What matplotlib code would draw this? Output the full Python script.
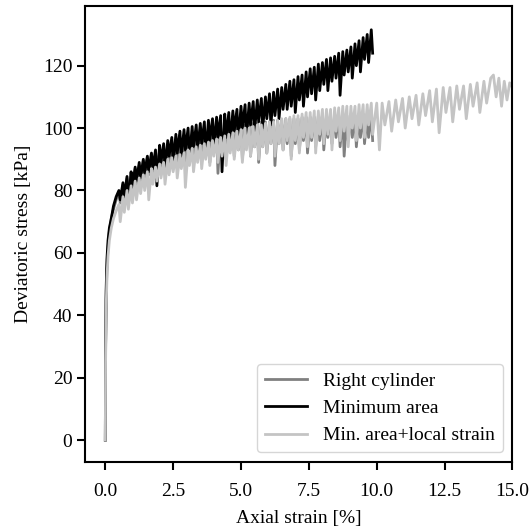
import matplotlib
matplotlib.use("Agg")
import matplotlib.pyplot as plt

plt.rcParams['font.family'] = ['Liberation Serif', 'DejaVu Serif']
plt.rcParams['font.size'] = 14

# Axial strain grid shared by the three tests (%)
strain_common = [
    0, 0.01, 0.03, 0.06, 0.1, 0.15, 0.22, 0.3, 0.4,
    0.5, 0.55, 0.65, 0.7, 0.8, 0.85, 0.95, 1.0, 1.1, 1.15,
    1.25, 1.3, 1.4, 1.45, 1.55, 1.6, 1.7, 1.75, 1.85, 1.9,
    2.0, 2.05, 2.15, 2.2, 2.3, 2.35, 2.45, 2.5, 2.6, 2.65,
    2.75, 2.8, 2.9, 2.95, 3.05, 3.1, 3.2, 3.25, 3.35, 3.4,
    3.5, 3.55, 3.65, 3.7, 3.8, 3.85, 3.95, 4.0, 4.1, 4.15,
    4.25, 4.3, 4.4, 4.45, 4.55, 4.6, 4.7, 4.75, 4.85, 4.9,
    5.0, 5.05, 5.15, 5.2, 5.3, 5.35, 5.45, 5.5, 5.6, 5.65,
    5.75, 5.8, 5.9, 5.95, 6.05, 6.1, 6.2, 6.25, 6.35, 6.4,
    6.5, 6.55, 6.65, 6.7, 6.8, 6.85, 6.95, 7.0, 7.1, 7.15,
    7.25, 7.3, 7.4, 7.45, 7.55, 7.6, 7.7, 7.75, 7.85, 7.9,
    8.0, 8.05, 8.15, 8.2, 8.3, 8.35, 8.45, 8.5, 8.6, 8.65,
    8.75, 8.8, 8.9, 8.95, 9.05, 9.1, 9.2, 9.25, 9.35, 9.4,
    9.5, 9.55, 9.65, 9.7, 9.8, 9.85,
]

# Right cylinder (kPa)
stress_right_cylinder = [
    0, 28, 45, 55, 62, 67, 71, 74, 77,
    79.5, 76, 82, 77, 84, 79, 85.5, 80, 87, 82,
    88, 83, 89.5, 84, 90.5, 85, 91.5, 86, 92, 87,
    93, 86, 94, 88, 94.5, 87, 95.5, 89, 96, 88,
    96.5, 90, 97, 89, 97.5, 91, 98, 88, 98, 91,
    98.5, 90, 99, 92, 99, 89, 99.5, 92, 99.5, 85.5,
    100, 92, 100, 90, 100.5, 93, 100.5, 91, 101, 93,
    101, 90, 101, 94, 101.5, 91, 101.5, 94, 101.5, 89,
    102, 94, 102, 92, 102, 95, 102.5, 88, 102.5, 95,
    102.5, 93, 103, 95, 103, 91, 103, 95, 103, 93,
    103.5, 96, 103.5, 92, 103.5, 96, 103.5, 94, 104, 96,
    104, 93, 104, 97, 104, 95, 104, 97, 104, 94,
    104, 91, 104, 96, 104, 97, 104, 94, 104.5, 97,
    104.5, 95, 104.5, 97, 104.5, 96,
]

# Minimum area (kPa)
stress_minimum_area = [
    0, 30, 48, 58, 64, 68, 71, 75, 78,
    80, 77, 82.5, 78, 84.5, 75.5, 86, 81, 87.5, 83,
    89, 84, 90, 85.5, 91, 86, 92, 87, 93, 81.5,
    94.5, 89, 95, 87, 96, 91, 97, 89, 98, 92,
    99, 91, 99.5, 93, 100, 90, 100.5, 94, 101, 93,
    101.5, 95, 102, 91, 102.5, 96, 103, 94, 103.5, 97,
    104, 86, 104.5, 97, 105, 95, 105.5, 99, 106, 96,
    107, 100, 107.5, 97, 108, 101, 108.5, 99, 109, 102,
    109.5, 100, 110, 103, 111, 101, 111.5, 104, 112.5, 103,
    113, 106, 114, 106, 115, 107, 115.5, 105, 116.5, 109,
    117, 107, 118, 110, 119, 111, 119.5, 109, 120.5, 112,
    121, 114, 122, 112, 122.5, 115, 123, 116, 124, 110.5,
    124.5, 117, 125, 118, 126, 116, 127, 120, 128, 118,
    129, 122, 130, 121, 131.5, 124,
]

# Min. area + local strain (kPa), on the shared grid then extended to 15 %
stress_local_common = [
    0, 25, 42, 52, 59, 64, 68, 71, 73.5,
    75.5, 70, 78, 73, 80, 74, 81.5, 76, 83, 77,
    84, 79, 85, 80, 86, 77, 87, 82, 87.5, 83,
    88.5, 84, 89, 82, 90, 85, 90.5, 86, 91, 84,
    91.5, 87, 92, 81, 93, 88, 93.5, 86, 94, 89,
    94.5, 87, 95, 90, 95.5, 88, 96, 91, 96.5, 89,
    97, 91, 97.5, 88, 98, 92, 98.5, 90, 99, 93,
    99.5, 89, 100, 93, 100, 91, 100.5, 94, 101, 90,
    101, 94, 101.5, 92, 102, 95, 102, 91, 102.5, 95,
    103, 93, 103, 96, 103.5, 90, 104, 96, 104, 92,
    104.5, 97, 105, 94, 105, 97, 105.5, 92, 105.5, 98,
    106, 95, 106, 98, 106, 93, 106.5, 99, 106.5, 96,
    107, 99, 107, 94, 107, 100, 107, 96, 107.5, 100,
    107.5, 97, 107.5, 101, 108, 98,
]
strain_local_ext = [
    10.0, 10.1, 10.2, 10.3, 10.45, 10.55, 10.7, 10.8, 10.95, 11.05,
    11.2, 11.3, 11.45, 11.55, 11.7, 11.8, 11.95, 12.05, 12.2, 12.3,
    12.45, 12.55, 12.7, 12.8, 12.95, 13.05, 13.2, 13.3, 13.45, 13.55,
    13.7, 13.8, 13.95, 14.05, 14.2, 14.3, 14.4, 14.5, 14.6, 14.7,
    14.8, 14.9, 15.0,
]
stress_local_ext = [
    108, 93, 108, 101, 108.5, 99, 109, 102, 109.5, 100,
    110, 103, 110.5, 101, 111, 104, 112, 102, 112.5, 98.5,
    113, 105, 113, 102, 113.5, 106, 113.5, 103, 114, 107,
    114.5, 105, 115, 108, 116, 117, 110, 116, 107, 115,
    109, 114.5, 113,
]

labels = ["Right cylinder", "Minimum area", "Min. area+local strain"]
colors = ["#808080", "#000000", "#c4c4c4"]

fig = plt.figure(figsize=(5.31, 5.31), dpi=100)
ax = fig.add_axes([0.16, 0.13, 0.805, 0.858])

ax.plot(strain_common, stress_right_cylinder, color=colors[0], lw=2.0, label=labels[0])
ax.plot(strain_common, stress_minimum_area, color=colors[1], lw=2.0, label=labels[1])
ax.plot(strain_common + strain_local_ext, stress_local_common + stress_local_ext,
        color=colors[2], lw=2.0, label=labels[2])

ax.set_xlim(-0.75, 15)
ax.set_ylim(-7, 139)
ax.set_xticks([0, 2.5, 5, 7.5, 10, 12.5, 15])
ax.set_yticks([0, 20, 40, 60, 80, 100, 120])
ax.set_xlabel("Axial strain [%]", labelpad=7)
ax.set_ylabel("Deviatoric stress [kPa]", labelpad=8)
for s in ax.spines.values():
    s.set_linewidth(1.5)
ax.tick_params(width=1.5, length=6)
ax.tick_params(axis='x', pad=9.5)
ax.tick_params(axis='y', pad=3)

ax.legend(loc="lower right", handlelength=2.2, fontsize=14)

fig.savefig("out.png", dpi=100)
